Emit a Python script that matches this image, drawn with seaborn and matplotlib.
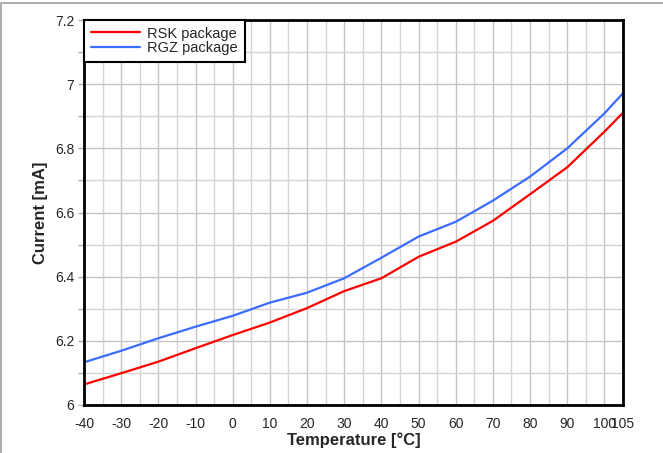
import numpy as np
import pandas as pd
import seaborn as sns
import matplotlib.pyplot as plt
from matplotlib.ticker import MultipleLocator, FixedLocator
from matplotlib.patches import Rectangle

# Data
temperature = [-40, -30, -20, -10, 0, 10, 20, 30, 40, 50, 60, 70, 80, 90, 100, 105]
rsk_current = [6.064, 6.099, 6.135, 6.177, 6.218, 6.257, 6.302, 6.355, 6.395,
               6.462, 6.509, 6.574, 6.657, 6.741, 6.852, 6.911]
rgz_current = [6.133, 6.169, 6.208, 6.244, 6.278, 6.319, 6.350, 6.395, 6.459,
               6.525, 6.571, 6.637, 6.712, 6.800, 6.909, 6.972]
x_ticks = [-40, -30, -20, -10, 0, 10, 20, 30, 40, 50, 60, 70, 80, 90, 100, 105]
y_ticks = [6, 6.2, 6.4, 6.6, 6.8, 7, 7.2]
y_tick_labels = ["6", "6.2", "6.4", "6.6", "6.8", "7", "7.2"]

df = pd.DataFrame({
    "Temperature": temperature * 2,
    "Current": rsk_current + rgz_current,
    "Package": ["RSK package"] * len(temperature) + ["RGZ package"] * len(temperature),
})

sns.set_style("white")
plt.rcParams["font.family"] = ["Liberation Sans", "DejaVu Sans"]
plt.rcParams["axes.unicode_minus"] = False

fig = plt.figure(figsize=(6.63, 4.53), dpi=100)
ax = fig.add_axes([0.1267, 0.106, 0.813, 0.8498])

# Light grey frame around the whole image
fig.patches.append(Rectangle((0.001, -0.05), 1.2, 1.043, transform=fig.transFigure,
                             fill=False, edgecolor="#a0a0a0", linewidth=1.2))

sns.lineplot(data=df, x="Temperature", y="Current", hue="Package",
             palette={"RSK package": "#ff0000", "RGZ package": "#3a6cff"},
             linewidth=1.6, ax=ax)

ax.set_xlim(-40, 105)
ax.set_ylim(6, 7.2)
ax.xaxis.set_major_locator(FixedLocator(x_ticks))
ax.xaxis.set_minor_locator(MultipleLocator(5))
ax.set_yticks(y_ticks)
ax.set_yticklabels(y_tick_labels)
ax.yaxis.set_minor_locator(MultipleLocator(0.1))

ax.grid(True, which="major", color="#c4c4c4", linewidth=1.0)
ax.grid(True, which="minor", color="#d4d4d4", linewidth=1.0)
ax.set_axisbelow(True)

ax.tick_params(axis="x", which="both", length=0, labelsize=10, pad=9)
ax.tick_params(axis="y", which="both", length=4, color="#b0b0b0", width=1,
               labelsize=10, pad=3, left=True, direction="out")

for s in ax.spines.values():
    s.set_color("black")
    s.set_linewidth(2)

ax.set_xlabel("Temperature [°C]", fontsize=12, fontweight="bold", labelpad=1)
ax.set_ylabel("Current [mA]", fontsize=12, fontweight="bold", labelpad=5)

leg = ax.legend(loc="upper left", frameon=True, fancybox=False, fontsize=10.5,
                borderaxespad=0, handlelength=3.4, handletextpad=0.5,
                borderpad=0.45, labelspacing=0.05)
leg.get_frame().set_edgecolor("black")
leg.get_frame().set_linewidth(1.5)
leg.get_frame().set_alpha(1)

fig.savefig("out.png", dpi=100)
